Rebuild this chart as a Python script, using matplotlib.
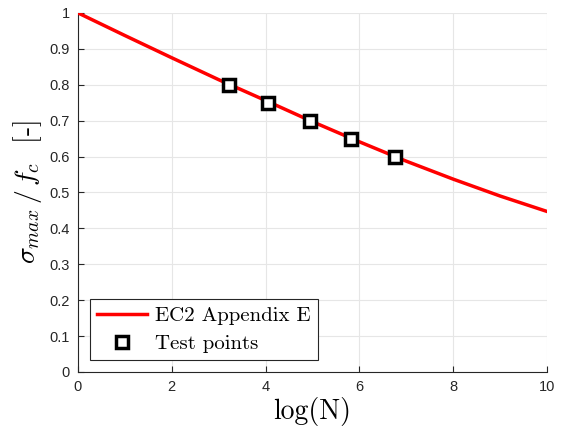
import numpy as np
import matplotlib
matplotlib.use("Agg")
import matplotlib.pyplot as plt

# EC2 Appendix E curve
curve_logN = [0, 1, 2, 3, 4, 5, 6, 7, 8, 9, 10]
curve_smax = [1.0, 0.937, 0.875, 0.814, 0.756, 0.697, 0.641, 0.587, 0.537, 0.490, 0.447]

# test points
test_logN = [3.22, 4.05, 4.95, 5.82, 6.76]
test_smax = [0.80, 0.75, 0.70, 0.65, 0.60]

plt.rcParams['mathtext.fontset'] = 'cm'
plt.rcParams['font.family'] = 'Liberation Sans'
plt.rcParams['axes.unicode_minus'] = False

fig = plt.figure(figsize=(5.63, 4.30), dpi=100)
ax = fig.add_axes([0.1385, 0.135, 0.8331, 0.835])

ax.plot(curve_logN, curve_smax, color='red', lw=2.5, label='EC2 Appendix E', zorder=3)
ax.plot(test_logN, test_smax, ls='none', marker='s', ms=9, mfc='white',
        mec='black', mew=2.5, label='Test points', zorder=4)

ax.set_xlim(0, 10)
ax.set_ylim(0, 1)
ax.set_xticks(range(0, 11, 2))
ax.set_yticks(np.arange(0, 1.01, 0.1))
ax.set_yticklabels(['0', '0.1', '0.2', '0.3', '0.4', '0.5', '0.6', '0.7', '0.8', '0.9', '1'])

ax.grid(True, color='#e6e6e6', lw=0.8)
ax.set_axisbelow(True)
for s in ['top', 'right']:
    ax.spines[s].set_visible(False)
for s in ['left', 'bottom']:
    ax.spines[s].set_color('#262626')
    ax.spines[s].set_linewidth(0.8)
ax.tick_params(direction='in', length=4, colors='#262626', labelsize=10.5, pad=6)

ax.set_xlabel('log(N)', fontsize=20, labelpad=2, family='cmr10')
ax.set_ylabel(r'$\sigma_{max}\,/\,f_c$  [-]', fontsize=20, labelpad=4, family='cmr10')

leg = ax.legend(loc='lower left', bbox_to_anchor=(0.025, 0.033), borderaxespad=0,
                fancybox=False, framealpha=1, edgecolor='#262626', borderpad=0.35,
                handlelength=2.4, handletextpad=0.4, labelspacing=0.45,
                prop={'family': 'cmr10', 'size': 15})
leg.get_frame().set_linewidth(0.8)

fig.savefig('out.png', dpi=100)
